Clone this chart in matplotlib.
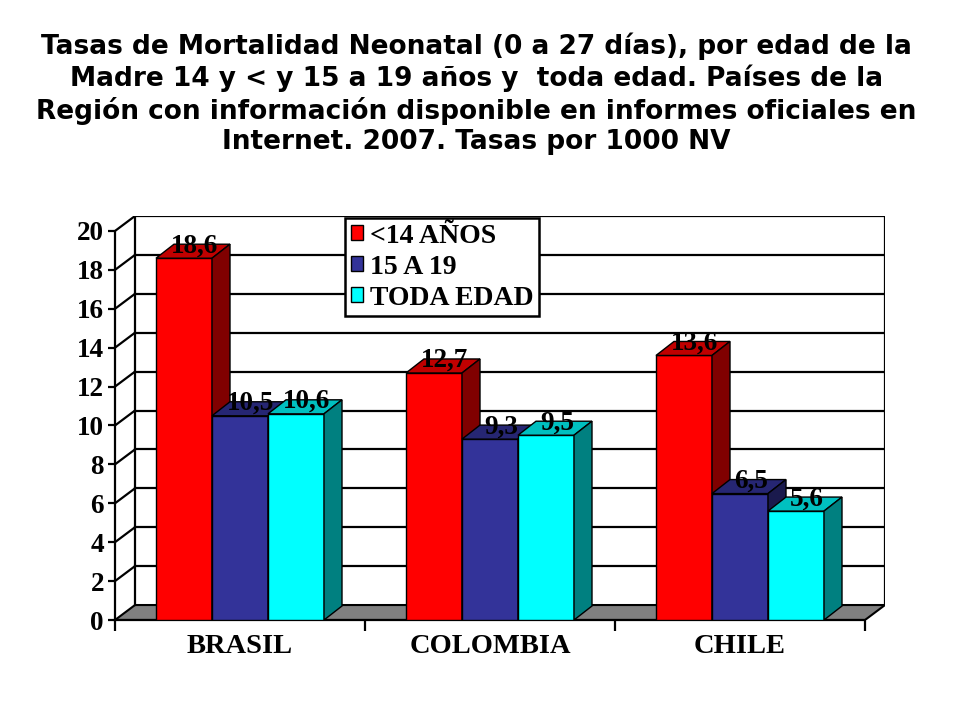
import matplotlib.pyplot as plt
from matplotlib.patches import Polygon, Patch

# data
paises = ["BRASIL", "COLOMBIA", "CHILE"]
series = ["<14 AÑOS", "15 A 19", "TODA EDAD"]
menor14 = [18.6, 12.7, 13.6]
de15a19 = [10.5, 9.3, 6.5]
toda_edad = [10.6, 9.5, 5.6]
valores = [menor14, de15a19, toda_edad]

# colours: front, top, side
colores = [("#FF0000", "#C00000", "#800000"),
           ("#333399", "#262673", "#1A1A4D"),
           ("#00FFFF", "#00C0C0", "#008080")]

serif = "Liberation Serif"

fig = plt.figure(figsize=(9.6, 7.2), dpi=100)
ax = fig.add_axes([115 / 960, 100 / 720, 770 / 960, 404 / 720])

# wall depth and bar depth (data units)
dx, dy = 0.08, 0.77
bdx, bdy = 0.072, 0.72
ymax = 20

ax.set_xlim(0, 3 + dx)
ax.set_ylim(0, ymax + dy)

# floor
ax.add_patch(Polygon([(0, 0), (3, 0), (3 + dx, dy), (dx, dy)], closed=True,
                     facecolor="#808080", edgecolor="black", lw=1.5, zorder=1))
# back wall + gridlines
for v in range(2, ymax + 1, 2):
    ax.plot([dx, 3 + dx], [v + dy, v + dy], color="black", lw=1.6, zorder=1)
    ax.plot([0, dx], [v, v + dy], color="black", lw=1.6, zorder=1)
ax.plot([dx, dx], [dy, ymax + dy], color="black", lw=1.6, zorder=1)
ax.plot([3 + dx, 3 + dx], [dy, ymax + dy], color="black", lw=1.6, zorder=1)

# bars
ancho = 0.224
inicio = 0.164
for j, vals in enumerate(valores):
    fr, tp, sd = colores[j]
    for i, v in enumerate(vals):
        x0 = i + inicio + j * ancho
        x1 = x0 + ancho
        z = 3 + i * 3 + j
        ax.bar(x0, v, width=ancho, align="edge", color=fr, edgecolor="black",
               lw=1, zorder=z)
        ax.add_patch(Polygon([(x0, v), (x1, v), (x1 + bdx, v + bdy), (x0 + bdx, v + bdy)],
                             closed=True, facecolor=tp, edgecolor="black", lw=1, zorder=z))
        ax.add_patch(Polygon([(x1, 0), (x1 + bdx, bdy), (x1 + bdx, v + bdy), (x1, v)],
                             closed=True, facecolor=sd, edgecolor="black", lw=1, zorder=z))
        ax.text(x0 + ancho / 2 + bdx * 0.6, v + 0.3, f"{v:.1f}".replace(".", ","),
                ha="center", va="baseline", fontsize=19.5, fontweight="bold",
                family=serif, zorder=20)

# axes
for s in ["top", "right"]:
    ax.spines[s].set_visible(False)
ax.spines["left"].set_bounds(0, ymax)
ax.spines["bottom"].set_bounds(0, 3)
ax.spines["left"].set_linewidth(1.6)
ax.spines["bottom"].set_linewidth(1.6)
ax.spines["left"].set_zorder(2)
ax.spines["bottom"].set_zorder(2)

ax.set_yticks(range(0, ymax + 1, 2))
ax.tick_params(axis="y", direction="out", length=5, width=1.6, pad=3)
for lab in ax.get_yticklabels():
    lab.set_fontsize(19.5)
    lab.set_fontweight("bold")
    lab.set_family(serif)

ax.set_xticks([0, 1, 2, 3])
ax.set_xticklabels([])
ax.tick_params(axis="x", which="major", direction="out", length=8, width=1.6)
ax.set_xticks([0.5, 1.5, 2.5], minor=True)
ax.set_xticklabels(paises, minor=True, fontsize=20.5, fontweight="bold", family=serif)
ax.tick_params(axis="x", which="minor", length=0, pad=10)

# legend
handles = [Patch(facecolor=c[0], edgecolor="black", lw=1) for c in colores]
leg = ax.legend(handles, series, loc="upper left", bbox_to_anchor=(230 / 770, 0.995),
                prop={"family": serif, "weight": "bold", "size": 20},
                frameon=True, fancybox=False, framealpha=1, edgecolor="black",
                handlelength=0.45, handleheight=0.45, handletextpad=0.25,
                labelspacing=0.22, borderpad=0.2, borderaxespad=0)
leg.get_frame().set_linewidth(1.8)
leg.set_zorder(30)

fig.text(0.496, 0.955,
         "Tasas de Mortalidad Neonatal (0 a 27 días), por edad de la\n"
         "Madre 14 y < y 15 a 19 años y  toda edad. Países de la\n"
         "Región con información disponible en informes oficiales en\n"
         "Internet. 2007. Tasas por 1000 NV",
         ha="center", va="top", fontsize=19, fontweight="bold",
         family="DejaVu Sans", linespacing=1.22)

fig.savefig("out.png", dpi=100)
